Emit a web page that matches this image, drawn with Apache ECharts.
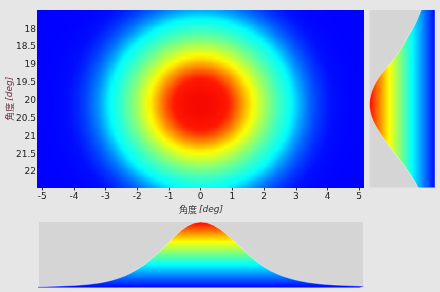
<!DOCTYPE html>
<html><head><meta charset="utf-8">
<script src="https://cdn.jsdelivr.net/npm/echarts@6/dist/echarts.min.js"></script>
<style>
html,body{margin:0;padding:0;background:#e6e6e6}
#c{position:absolute;left:0;top:0;width:440px;height:292px}
#hw{position:absolute;left:39px;top:10px;width:324px;height:177.5px;overflow:hidden}
#h{position:absolute;left:-39px;top:-10px;width:440px;height:292px;filter:blur(1.3px)}
</style>
</head><body><div id="c"></div><div id="hw"><div id="h"></div></div>
<script>
// ---- data ----
// tick labels
const xTicks = [-5,-4,-3,-2,-1,0,1,2,3,4,5];
const yTicks = [18,18.5,19,19.5,20,20.5,21,21.5,22];
// heatmap: horizontal intensity shape (x = -5.1 .. 5.1, step 0.1)
const heatX = [0.0031,0.0039,0.0048,0.006,0.0074,0.0091,0.0111,0.0135,0.0164,0.0198,0.0238,0.0285,0.034,0.0404,0.0477,0.0561,0.0657,0.0766,0.0889,0.1027,0.1182,0.1353,0.1543,0.1751,0.1979,0.2227,0.2494,0.278,0.3087,0.3411,0.3753,0.4111,0.4483,0.4868,0.5263,0.5662,0.6065,0.6468,0.6868,0.7261,0.7643,0.8007,0.8353,0.8673,0.8968,0.9231,0.946,0.965,0.9802,0.9911,0.9978,1.0,0.9978,0.9911,0.9802,0.965,0.946,0.9231,0.8968,0.8673,0.8353,0.8007,0.7643,0.7261,0.6868,0.6468,0.6065,0.5662,0.5263,0.4868,0.4483,0.4111,0.3753,0.3411,0.3087,0.278,0.2494,0.2227,0.1979,0.1751,0.1543,0.1353,0.1182,0.1027,0.0889,0.0766,0.0657,0.0561,0.0477,0.0404,0.034,0.0285,0.0238,0.0198,0.0164,0.0135,0.0111,0.0091,0.0074,0.006,0.0048,0.0039,0.0031];
// heatmap: vertical intensity shape (y = 17.5 .. 22.4, step 0.1)
const heatY = [0.115,0.1353,0.1583,0.184,0.2125,0.2438,0.278,0.315,0.3546,0.3966,0.4408,0.4868,0.5341,0.5823,0.6308,0.679,0.7261,0.7717,0.8148,0.8549,0.8912,0.9231,0.9501,0.9716,0.9873,0.9968,1.0,0.9968,0.9873,0.9716,0.9501,0.9231,0.8912,0.8549,0.8148,0.7717,0.7261,0.679,0.6308,0.5823,0.5341,0.4868,0.4408,0.3966,0.3546,0.315,0.278,0.2438,0.2125,0.184];
// bottom profile (x = -5.2 .. 5.2, step 0.2)
const profX = [0.011,0.013,0.016,0.018,0.022,0.026,0.031,0.037,0.045,0.056,0.07,0.088,0.111,0.14,0.176,0.221,0.275,0.34,0.415,0.5,0.594,0.693,0.79,0.876,0.943,0.985,1.0,0.988,0.951,0.893,0.818,0.73,0.64,0.55,0.462,0.381,0.312,0.255,0.209,0.171,0.14,0.115,0.094,0.077,0.064,0.053,0.045,0.039,0.034,0.03,0.026,0.022,0.019];
// right profile (y = 17.4 .. 22.5, step 0.1)
const profY = [0.2,0.22,0.241,0.264,0.289,0.316,0.345,0.376,0.409,0.44,0.47,0.502,0.537,0.575,0.615,0.657,0.703,0.75,0.797,0.84,0.876,0.907,0.935,0.958,0.976,0.989,0.997,1.0,0.997,0.989,0.976,0.958,0.935,0.907,0.876,0.842,0.805,0.766,0.726,0.685,0.643,0.601,0.56,0.52,0.475,0.435,0.398,0.362,0.328,0.296,0.267,0.24];

// ---- build ----
const r1 = v => Math.round(v*10)/10;
const heatXDeg = heatX.map((_, i) => r1(-5.1 + i*0.1));
const heatYDeg = heatY.map((_, i) => r1(17.5 + i*0.1));
const profXDeg = profX.map((_, i) => r1(-5.2 + i*0.2));
const profYDeg = profY.map((_, i) => r1(17.4 + i*0.1));

const heatData = [];
heatYDeg.forEach((y, j) => heatXDeg.forEach((x, i) => heatData.push([x, y, heatX[i]*heatY[j]])));

function makeMap(stops){
  return function(t){
    for (let k=1;k<stops.length;k++){
      if (t <= stops[k][0]+1e-9){
        const a=stops[k-1], b=stops[k], f=(t-a[0])/(b[0]-a[0]);
        return 'rgb('+a[1].map((v,n)=>Math.round(v+(b[1][n]-v)*f)).join(',')+')';
      }
    }
    return 'rgb('+stops[stops.length-1][1].join(',')+')';
  };
}
const heatStops = [[0,[0,0,255]],[0.02,[0,12,255]],[0.16,[0,255,255]],[0.55,[255,255,0]],[0.85,[255,24,0]],[1,[245,8,0]]];
const heatMap = makeMap(heatStops);
const cols = []; for (let k=0;k<=200;k++) cols.push(heatMap(k/200));
const jet = [[0,[0,0,255]],[0.35,[0,255,255]],[0.7,[255,255,0]],[1,[255,0,0]]];
const gradStops = jet.map(s => ({offset: 1-s[0], color: 'rgb('+s[1].join(',')+')'})).sort((a,b)=>a.offset-b.offset);

const font = "'DejaVu Sans', sans-serif";
const cjk = "'Noto Sans CJK JP', 'DejaVu Sans', sans-serif";
const XMIN=-5.1, XMAX=5.12, YMIN=17.46, YMAX=22.43;
const mainGrid = {left:39, top:10, width:324, height:177.5, outerBoundsMode:'none', containLabel:false};

const heatSeries = {type:'custom', xAxisIndex:0, yAxisIndex:0, clip:true, data:heatData, encode:{x:0,y:1},
  renderItem: function(params, api){
    const x = api.value(0), y = api.value(1);
    const p0 = api.coord([x-0.05, y-0.05]), p1 = api.coord([x+0.05, y+0.05]);
    const x0 = Math.round(Math.min(p0[0],p1[0])), x1 = Math.round(Math.max(p0[0],p1[0]));
    const y0 = Math.round(Math.min(p0[1],p1[1])), y1 = Math.round(Math.max(p0[1],p1[1]));
    return {type:'rect', shape:{x:x0, y:y0, width:x1-x0, height:y1-y0}, style:{fill: api.visual('color')}};
  }};
const heatVM = {type:'continuous', show:false, min:0, max:1, dimension:2, seriesIndex:0, inRange:{color:cols}};

const chart = echarts.init(document.getElementById('c'), null, {renderer:'canvas'});
chart.setOption({
  backgroundColor: '#e6e6e6',
  animation: false,
  grid: [
    mainGrid,
    {left:369.5, top:10, width:65.5, height:177.5, show:true, backgroundColor:'#d5d5d5', borderWidth:0, outerBoundsMode:'none'},
    {left:39, top:222, width:324, height:65.5, show:true, backgroundColor:'#d5d5d5', borderWidth:0, outerBoundsMode:'none'}
  ],
  xAxis: [
    {gridIndex:0, type:'value', min:XMIN, max:XMAX,
     axisLine:{show:false}, splitLine:{show:false},
     axisTick:{show:true, customValues:xTicks, length:3, lineStyle:{color:'#333'}},
     axisLabel:{customValues:xTicks, color:'#222', fontSize:9, fontFamily:font, margin:5},
     name:'角度 {i|[deg]}', nameLocation:'middle', nameGap:18, nameMoveOverlap:false,
     nameTextStyle:{color:'#333', fontSize:9, fontFamily:cjk,
       rich:{i:{fontStyle:'italic', fontSize:9, color:'#333', fontFamily:font}}}},
    {gridIndex:1, type:'value', min:0, max:1, inverse:true, show:false},
    {gridIndex:2, type:'value', min:XMIN, max:XMAX, show:false}
  ],
  yAxis: [
    {gridIndex:0, type:'value', min:YMIN, max:YMAX, inverse:true,
     axisLine:{show:false}, splitLine:{show:false},
     axisTick:{show:true, customValues:yTicks, length:2, lineStyle:{color:'#333'}},
     axisLabel:{customValues:yTicks, color:'#222', fontSize:9, fontFamily:font, margin:3},
     name:'角度 {i|[deg]}', nameLocation:'middle', nameGap:25, nameRotate:90, nameMoveOverlap:false,
     nameTextStyle:{color:'#6a2c3c', fontSize:9, fontFamily:cjk,
       rich:{i:{fontStyle:'italic', fontSize:9, color:'#6a2c3c', fontFamily:font}}}},
    {gridIndex:1, type:'value', min:YMIN, max:YMAX, inverse:true, show:false},
    {gridIndex:2, type:'value', min:0, max:1, show:false}
  ],
  visualMap: heatVM,
  series: [
    heatSeries,
    {type:'custom', xAxisIndex:1, yAxisIndex:1, clip:true,
     data: profY.map((v,i)=>[v, profYDeg[i]]), encode:{x:0,y:1},
     renderItem: function(params, api){
       if (params.dataIndex !== 0) return;
       const pts = profY.map((v,i)=>api.coord([v, profYDeg[i]]));
       pts.unshift(api.coord([0, profYDeg[0]]));
       pts.push(api.coord([0, profYDeg[profYDeg.length-1]]));
       return {type:'polygon', shape:{points:pts},
         style:{fill: new echarts.graphic.LinearGradient(0,0,1,0, gradStops), stroke:'rgba(255,255,255,0.5)', lineWidth:0.8}};
     }},
    {type:'line', xAxisIndex:2, yAxisIndex:2, symbol:'none', clip:true,
     data: profX.map((v,i)=>[profXDeg[i], v]),
     lineStyle:{color:'rgba(255,255,255,0.5)', width:0.8},
     areaStyle:{opacity:1, color: new echarts.graphic.LinearGradient(0,0,0,1, gradStops)}}
  ]
});

// smoothed copy of the heatmap layered over the main plot area
const hchart = echarts.init(document.getElementById('h'), null, {renderer:'canvas'});
hchart.setOption({
  animation:false,
  grid: [mainGrid],
  xAxis: [{type:'value', min:XMIN, max:XMAX, show:false}],
  yAxis: [{type:'value', min:YMIN, max:YMAX, inverse:true, show:false}],
  visualMap: heatVM,
  series: [heatSeries]
});
</script></body></html>
